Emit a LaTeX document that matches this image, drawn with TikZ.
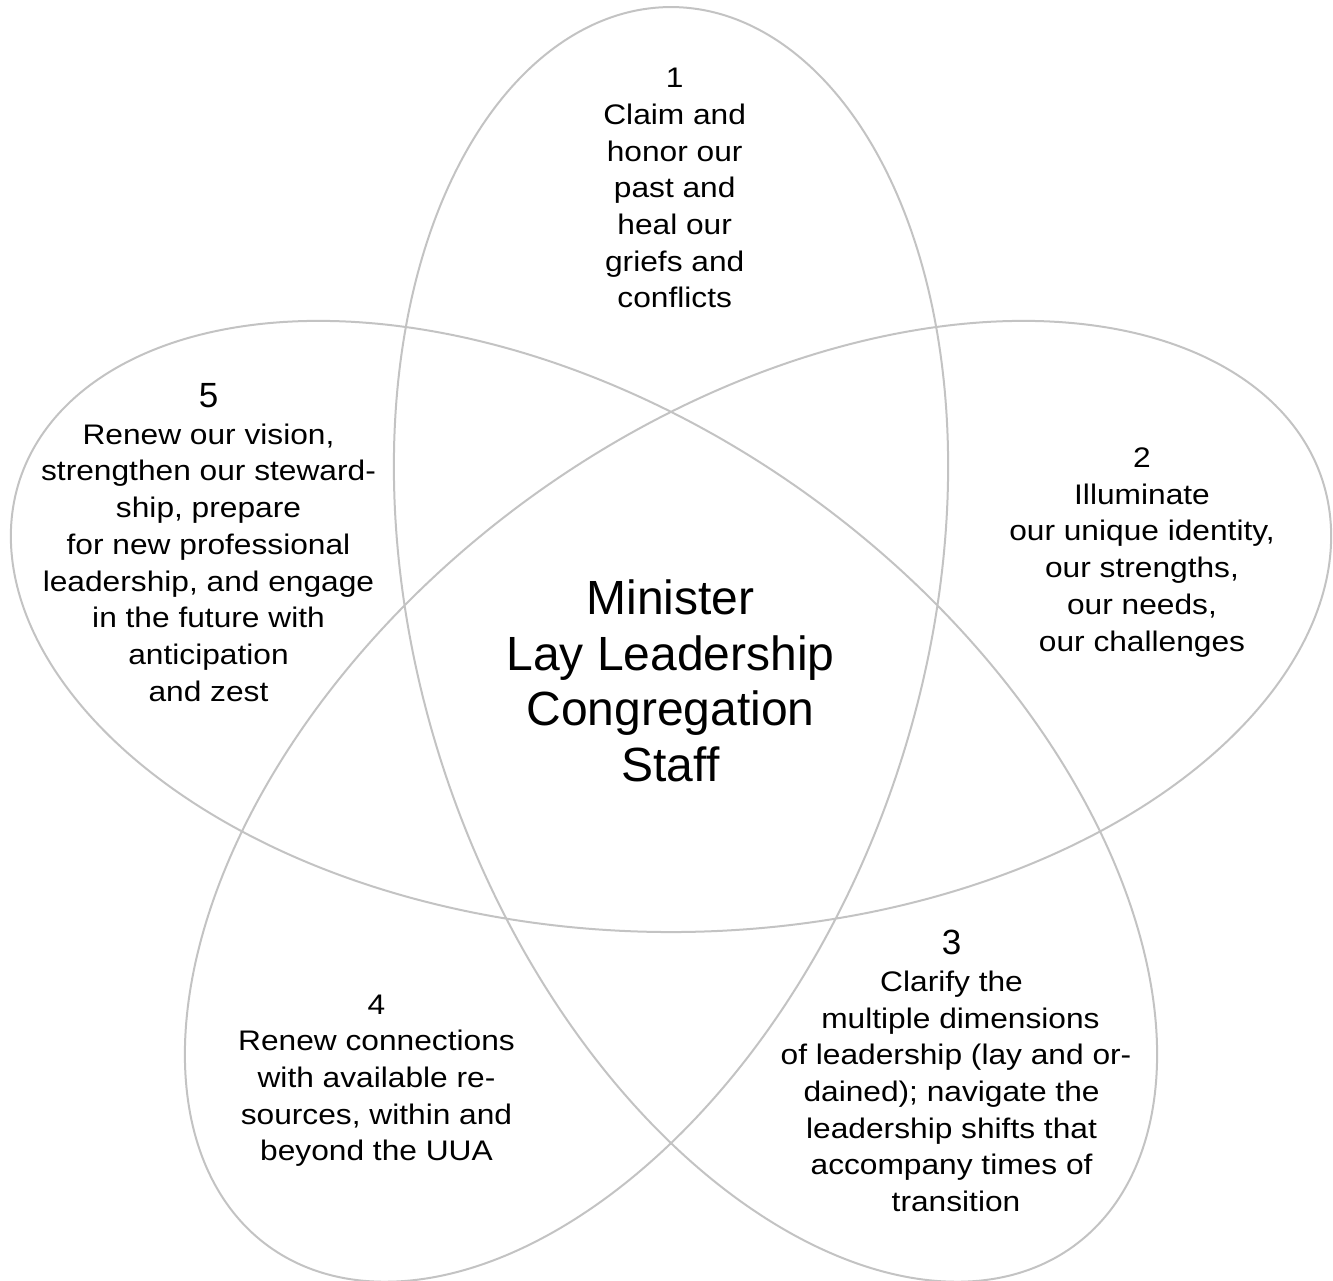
\documentclass[tikz,border=0pt]{standalone}
\usepackage{fontspec}
\setmainfont{Liberation Sans}
\newfontfamily\lblfont[FakeStretch=1.12]{Liberation Sans}
\newfontfamily\plainsans{Liberation Sans}
\definecolor{curvegray}{RGB}{195,195,195}
\newcommand\tsp{\hbox to 8.9pt{}}
\begin{document}
\begin{tikzpicture}[x=1pt,y=-1pt,
  lbl/.style={anchor=north, inner sep=0pt, align=center, font=\lblfont\fontsize{28.3}{36.7}\selectfont},
  ctr/.style={anchor=north, inner sep=0pt, align=center, font=\plainsans\fontsize{48}{55.5}\selectfont},
  curve/.style={draw=curvegray, line width=2pt, line join=round}]
\useasboundingbox (0,0) rectangle (1333,1281);
\draw[curve] plot[domain=0:1080, samples=1081, variable=\t]
  ({671+231.25*(2*cos(\t+90)+0.962*cos(90-2*\t/3))},
   {692-231.25*(2*sin(\t+90)+0.962*sin(90-2*\t/3))}) -- cycle;
\node[lbl] (l1) at (674.7,68) {1\\Claim and\\honor our\\past and\\heal our\\griefs and\\conflicts};
\node[lbl] (l2) at (1142,447.6) {2\\Illuminate\\our unique identity,\\our strengths,\\our needs,\\our challenges};
\node[lbl] (l3) at (956,930.1) {{\plainsans\fontsize{35}{36.7}\selectfont 3}\tsp\\Clarify the\tsp\\\tsp multiple dimensions\\of leadership (lay and or-\\dained); navigate the\tsp\\leadership shifts that\tsp\\accompany times of\tsp\\transition};
\node[lbl] (l4) at (376.5,994.4) {4\\Renew connections\\with available re-\\sources, within and\\beyond the UUA};
\node[lbl] (l5) at (208.5,383.3) {{\plainsans\fontsize{35}{36.7}\selectfont 5}\\Renew our vision,\\strengthen our steward-\\ship, prepare\\for new professional\\leadership, and engage\\in the future with\\anticipation\\and zest};
\node[ctr] (c) at (670.5,580) {Minister\\Lay Leadership\\Congregation\\Staff};
\end{tikzpicture}
\end{document}
